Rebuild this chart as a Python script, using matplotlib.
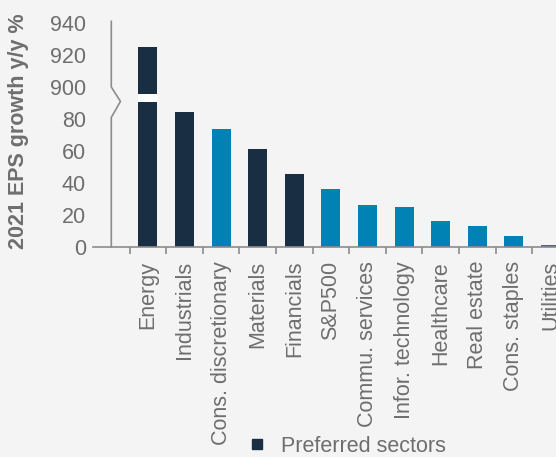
import numpy as np
import matplotlib
matplotlib.use("Agg")
import matplotlib.pyplot as plt
from matplotlib.lines import Line2D

categories = ["Energy", "Industrials", "Cons. discretionary", "Materials", "Financials",
              "S&P500", "Commu. services", "Infor. technology", "Healthcare",
              "Real estate", "Cons. staples", "Utilities"]
eps_growth = [925, 84.4, 73.7, 61.2, 45.6, 36.2, 26.2, 25.0, 16.2, 13.1, 6.9, 1.3]
preferred = [True, True, False, True, True, False, False, False, False, False, False, False]
ytick_values = [0, 20, 40, 60, 80, 900, 920, 940]

DARK = "#1a2e43"
BLUE = "#0082b4"
GREY_TXT = "#6e6e6e"
GREY_LINE = "#8c8c8c"
BG = "#f4f4f4"

BREAK_LO, BREAK_HI, OFFSET = 95.0, 895.0, 800.0

def fwd(y):
    y = np.asarray(y, dtype=float)
    return np.where(y <= BREAK_LO, y, np.where(y >= BREAK_HI, y - OFFSET, BREAK_LO))

def inv(x):
    x = np.asarray(x, dtype=float)
    return np.where(x <= BREAK_LO, x, x + OFFSET)

plt.rcParams["font.family"] = ["Liberation Sans", "DejaVu Sans"]
FS = 15.5

W, H = 556, 457
fig = plt.figure(figsize=(W / 100, H / 100), dpi=100, facecolor=BG)

px_unit_x = 36.6
px_unit_y = 1.6
left_px, base_px = 93, 247
xl = (-1.5, 12.0)
ytop = 942
ax = fig.add_axes([left_px / W, 1 - base_px / H,
                   (xl[1] - xl[0]) * px_unit_x / W, (ytop - OFFSET) * px_unit_y / H])
ax.set_facecolor(BG)
ax.set_yscale("function", functions=(fwd, inv))

x = np.arange(len(categories))
colors = [DARK if p else BLUE for p in preferred]
ax.bar(x, eps_growth, width=0.52, color=colors, zorder=2)
# break gap on the Energy bar
ax.bar(0, 895.6 - 90.6, bottom=90.6, width=0.56, color="white", zorder=3)

ax.set_xlim(*xl)
ax.set_ylim(0, ytop)

# custom broken y-axis line
ax.add_line(Line2D([-1, -1, -0.75, -1, -1], [0, 81, 91, 900, 941],
                   color=GREY_LINE, lw=1.2, zorder=4, clip_on=False))

for s in ["left", "right", "top"]:
    ax.spines[s].set_visible(False)
ax.spines["bottom"].set_color(GREY_LINE)
ax.spines["bottom"].set_linewidth(1.2)

ax.set_yticks(ytick_values)
ax.set_yticklabels([str(v) for v in ytick_values])
ax.tick_params(axis="y", length=0, pad=5, labelsize=FS, labelcolor=GREY_TXT)

ax.set_xticks(x)
ax.set_xticklabels(categories, rotation=90, fontsize=FS, color=GREY_TXT)
ax.set_xticks(np.arange(-0.5, len(categories), 1.0), minor=True)
ax.tick_params(axis="x", which="major", length=0, pad=10)
ax.tick_params(axis="x", which="minor", length=5, width=1.2, color=GREY_LINE, direction="out")

fig.text(18.5 / W, 1 - 131 / H, "2021 EPS growth y/y %", rotation=90, ha="center",
         va="center", fontsize=FS, fontweight="bold", color=GREY_TXT)

handle = Line2D([], [], marker="s", ls="", color=DARK, markersize=7.5)
fig.legend(handles=[handle], labels=["Preferred sectors"], loc="center",
           bbox_to_anchor=(346 / W, 1 - 446 / H), frameon=False, fontsize=FS,
           labelcolor=GREY_TXT, handletextpad=0.6, borderpad=0, handlelength=1.0)

fig.savefig("out.png", dpi=100, facecolor=BG)
